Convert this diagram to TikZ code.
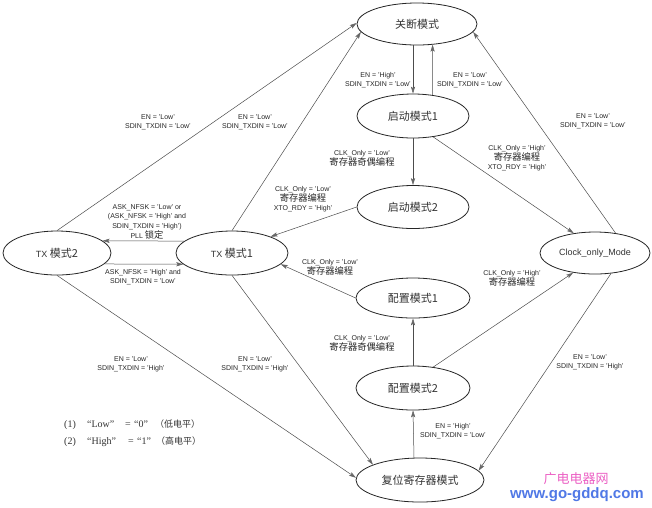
\documentclass[tikz,border=0pt]{standalone}
\usepackage{fontspec}
\setmainfont{Liberation Sans}
\newfontfamily\cjk{Noto Sans CJK SC}
\newfontfamily\serifrm{Liberation Serif}
\usetikzlibrary{shapes.geometric,arrows.meta}
\definecolor{wmpink}{RGB}{236,96,196}
\definecolor{wmblue}{RGB}{80,120,230}
\newcommand\cn[1]{{\cjk\fontsize{9.3}{9}\selectfont #1}}
\newcommand\fnbox[2]{\makebox[#1][l]{#2}}
\begin{document}
\begin{tikzpicture}[x=1pt,y=-1pt,
  state/.style={ellipse,draw=black!85,line width=0.8pt,inner sep=0pt,
    font=\cjk\fontsize{11}{11}\selectfont,text=black!80},
  lbl/.style={align=center,inner sep=0pt,font=\fontsize{7}{9.2}\selectfont,text=black!85},
  conn/.style={draw=black!70,line width=0.5pt,
    -{Stealth[length=7pt,width=4.2pt,inset=1.5pt,color=black!60]}}]
\fill[white] (0,0) rectangle (652,507);
\useasboundingbox (0,0) rectangle (652,507);

% states
\node[state,minimum width=120pt,minimum height=42pt] (off) at (417,24) {关断模式};
\node[state,minimum width=112pt,minimum height=44pt] (st1) at (413,116) {启动模式1};
\node[state,minimum width=112pt,minimum height=43pt] (st2) at (413,207) {启动模式2};
\node[state,minimum width=108pt,minimum height=44pt] (tx2) at (57,253) {{\rmfamily\fontsize{9}{9}\selectfont TX }模式2};
\node[state,minimum width=112pt,minimum height=44pt] (tx1) at (232,253) {{\rmfamily\fontsize{9}{9}\selectfont TX }模式1};
\node[state,minimum width=110pt,minimum height=42pt,font=\fontsize{9}{9}\selectfont] (clk) at (595,253) {Clock\_only\_Mode};
\node[state,minimum width=114pt,minimum height=40pt] (cf1) at (413,298) {配置模式1};
\node[state,minimum width=114pt,minimum height=44pt] (cf2) at (413,388) {配置模式2};
\node[state,minimum width=128pt,minimum height=44pt] (rst) at (420,480) {复位寄存器模式};

% connectors
\draw[conn] (tx2.north) -- (off.179);
\draw[conn] (tx1.north) -- (off.188);
\draw[conn] (clk.44) -- (off.352);
\draw[conn] ([xshift=-4pt]off.south) -- (st1.north);
\draw[conn] (st1.47) -- (off.307);
\draw[conn] (st1.south) -- (st2.north);
\draw[conn] (st1.314) -- (clk.137);
\draw[conn] (st2.180) -- (tx1.23);
\draw[conn] (cf1.180) -- (tx1.347);
\draw[conn] (tx1.166) -- (tx2.15);
\draw[conn] (tx2.347) -- (tx1.193);
\draw[conn] (cf2.north) -- (cf1.south);
\draw[conn] (cf2.46) -- (clk.222);
\draw[conn] ([xshift=-6pt]rst.north) -- (cf2.south);
\draw[conn] (clk.308) -- (rst.9);
\draw[conn] (tx1.south) -- (rst.162);
\draw[conn] (tx2.south) -- (rst.178);

% labels
\node[lbl] (l1) at (158,122) {EN = 'Low'\\SDIN\_TXDIN = 'Low'};
\node[lbl] (l2) at (255,122) {EN = 'Low'\\SDIN\_TXDIN = 'Low'};
\node[lbl] (l3) at (378,80) {EN = 'High'\\SDIN\_TXDIN = 'Low'};
\node[lbl] (l4) at (470,80) {EN = 'Low'\\SDIN\_TXDIN = 'Low'};
\node[lbl] (l5) at (362,158) {CLK\_Only = 'Low'\\\cn{寄存器奇偶编程}};
\node[lbl] (l6) at (517,158) {CLK\_Only = 'High'\\\cn{寄存器编程}\\XTO\_RDY = 'High'};
\node[lbl] (l7) at (303,199) {CLK\_Only = 'Low'\\\cn{寄存器编程}\\XTO\_RDY = 'High'};
\node[lbl] (l8) at (147,222) {ASK\_NFSK = 'Low' or\\(ASK\_NFSK = 'High' and\\SDIN\_TXDIN = 'High')\\PLL \cn{锁定}};
\node[lbl] (l9) at (143,277) {ASK\_NFSK = 'High' and\\SDIN\_TXDIN = 'Low'};
\node[lbl] (l10) at (593,121) {EN = 'Low'\\SDIN\_TXDIN = 'Low'};
\node[lbl] (l11) at (330,267) {CLK\_Only = 'Low'\\\cn{寄存器编程}};
\node[lbl] (l12) at (512,278) {CLK\_Only = 'High'\\\cn{寄存器编程}};
\node[lbl] (l13) at (362,343) {CLK\_Only = 'Low'\\\cn{寄存器奇偶编程}};
\node[lbl] (l14) at (131,364) {EN = 'Low'\\SDIN\_TXDIN = 'High'};
\node[lbl] (l15) at (255,364) {EN = 'Low'\\SDIN\_TXDIN = 'High'};
\node[lbl] (l16) at (590,362) {EN = 'Low'\\SDIN\_TXDIN = 'High'};
\node[lbl] (l17) at (453,431) {EN = 'High'\\SDIN\_TXDIN = 'Low'};

% footnote
\node[anchor=west,inner sep=0pt,align=left,text=black!80,
  font=\serifrm\fontsize{10}{17}\selectfont] (note) at (64,433)
  {\fnbox{23pt}{(1)}\fnbox{38pt}{“Low”}\fnbox{9pt}{=}\fnbox{21pt}{“0”}{\cjk\fontsize{9}{9}\selectfont （低电平）}\\
   \fnbox{23pt}{(2)}\fnbox{41pt}{“High”}\fnbox{9pt}{=}\fnbox{19pt}{“1”}{\cjk\fontsize{9}{9}\selectfont （高电平）}};

% watermark
\node[inner sep=0pt,font=\cjk\fontsize{13}{13}\selectfont,text=wmpink] (wm1) at (576,479) {广电电器网};
\node[inner sep=0pt,font=\bfseries\fontsize{15}{15}\selectfont,text=wmblue] (wm2) at (577,495) {www.go-gddq.com};
\end{tikzpicture}
\end{document}
